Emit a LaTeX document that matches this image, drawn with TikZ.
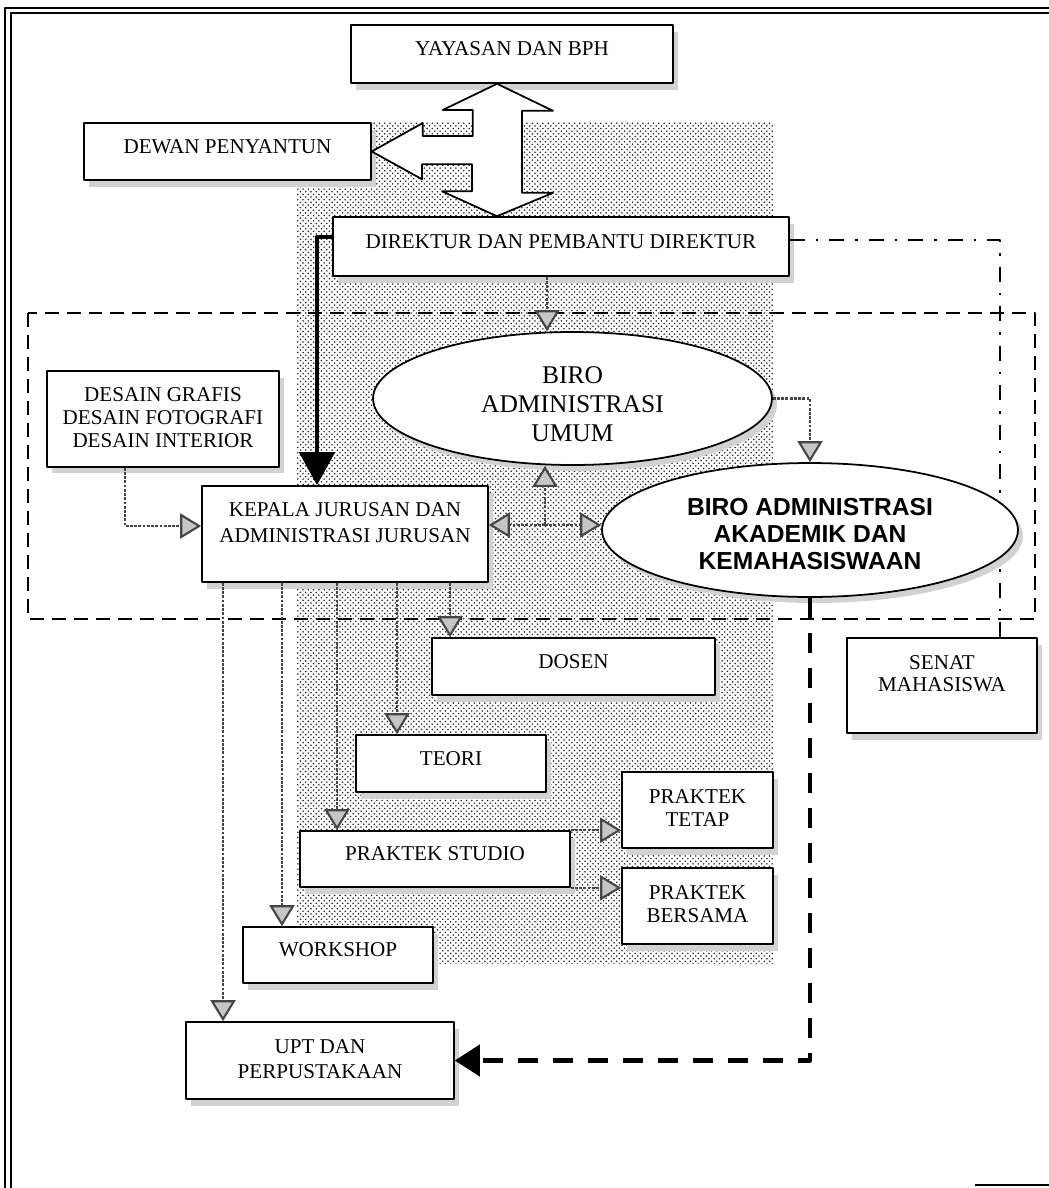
\documentclass[tikz,border=0pt]{standalone}
\usepackage{fontspec}
\setmainfont{Liberation Serif}
\newfontfamily\hurufjudul{Liberation Sans}
\usetikzlibrary{arrows.meta,shapes.geometric,patterns,shadows}

\begin{document}
\begin{tikzpicture}[x=0.02cm, y=-0.02cm, line join=round, font=\fontsize{12}{13}\selectfont,
	kotak/.style={draw, fill=white, line width=0.9pt, align=center, inner sep=2pt, text depth=0.2cm,
		drop shadow={shadow xshift=0.1cm, shadow yshift=-0.13cm, fill=gray!35, opacity=1}},
	elips/.style={ellipse, draw, fill=white, line width=1pt, align=center, inner sep=0pt,
		drop shadow={shadow xshift=0.1cm, shadow yshift=-0.12cm, fill=gray!35, opacity=1}},
	rantai/.style={draw=gray!55!black, line width=1.2pt, dash pattern=on 1.6pt off 0.8pt,
		-{Triangle[length=0.42cm, width=0.5cm, fill=gray!45]}}]
	% Batas gambar
	\useasboundingbox (0,0) rectangle (1049,1188);
	% Bingkai halaman
	\draw[line width=1.2pt] (5,1188) -- (5,8) -- (1049,8);
	\draw[line width=0.6pt] (11,1188) -- (11,13) -- (1049,13);
	\draw[line width=1pt] (975,1185) -- (1049,1185);
	% Bidang berbintik dan garis putus-putus
	\fill[pattern=crosshatch dots, pattern color=black!85] (297,122) rectangle (773,963);
	\draw[line width=1.1pt, dash pattern=on 0.28cm off 0.16cm] (28,313) rectangle (1035,619);
	% Kotak atas
	\node[kotak, minimum width=6.44cm, minimum height=1.16cm] (yay) at (512,54) {YAYASAN DAN BPH};
	\node[kotak, minimum width=5.74cm, minimum height=1.14cm] (dewan) at (227.5,151.5) {DEWAN PENYANTUN};
	\node[kotak, minimum width=9.12cm, minimum height=1.18cm] (dir) at (561,246.5) {DIREKTUR DAN PEMBANTU DIREKTUR};
	\node[kotak, minimum width=3.8cm, minimum height=1.9cm, text depth=0.48cm] (senat) at (942,685.5) {SENAT\\MAHASISWA};
	\draw[line width=0.9pt, dash pattern=on 0.3cm off 0.22cm on 0.05cm off 0.22cm] ([yshift=0.13cm]dir.east) -| ([xshift=1.16cm]senat.north);
	% Biro
	\node[elips, minimum width=7.98cm, minimum height=2.66cm, text height=1.74cm, font=\fontsize{14.5}{16.5}\selectfont] (umum) at (572.5,398.5) {BIRO\\ADMINISTRASI\\UMUM};
	\node[elips, minimum width=8.32cm, minimum height=2.68cm, text height=1.6cm, font=\hurufjudul\bfseries\fontsize{14}{15.6}\selectfont] (akad) at (810,530) {BIRO ADMINISTRASI\\AKADEMIK DAN\\KEMAHASISWAAN};
	% Kotak jurusan
	\node[kotak, minimum width=4.64cm, minimum height=1.92cm, text depth=0.05cm] (desain) at (163,419) {DESAIN GRAFIS\\DESAIN FOTOGRAFI\\DESAIN INTERIOR};
	\node[kotak, minimum width=5.72cm, minimum height=1.92cm, text depth=0.45cm] (kepala) at (345,534) {KEPALA JURUSAN DAN\\[2pt]ADMINISTRASI JURUSAN};
	\node[kotak, minimum width=5.66cm, minimum height=1.14cm] (dosen) at (573.5,666.5) {DOSEN};
	\node[kotak, minimum width=3.8cm, minimum height=1.14cm] (teori) at (451,763.5) {TEORI};
	\node[kotak, minimum width=5.4cm, minimum height=1.12cm] (studio) at (435,859) {PRAKTEK STUDIO};
	\node[kotak, minimum width=3.02cm, minimum height=1.52cm, text depth=0.08cm] (tetap) at (697.5,810) {PRAKTEK\\TETAP};
	\node[kotak, minimum width=3.02cm, minimum height=1.52cm, text depth=0.08cm] (bersama) at (697.5,906) {PRAKTEK\\BERSAMA};
	\node[kotak, minimum width=3.8cm, minimum height=1.12cm] (workshop) at (338,955) {WORKSHOP};
	\node[kotak, minimum width=5.36cm, minimum height=1.54cm, text depth=0.05cm] (upt) at (320,1060.5) {UPT DAN\\[1pt]PERPUSTAKAAN};
	% Panah besar dua arah
	\coordinate (poros) at (497,0);
	\draw[line width=1pt, fill=white] (yay.south -| poros) -- ++(56,27) -- ++(-31,0) -- ++(0,82) -- ++(31,0)
		-- (dir.north -| poros) -- ++(-55,-25) -- ++(30,0) -- ++(0,-27) -- ++(-50,0) -- ++(0,15)
		-- (dewan.east) -- ++(51,-28.5) -- ++(0,13) -- ++(50,0) -- ++(0,-26) -- ++(-30,0) -- cycle;
	% Panah hitam
	\draw[line width=2.6pt, -{Triangle[length=0.66cm, width=0.7cm]}] ([yshift=0.19cm]dir.west) -| ([xshift=-0.56cm]kepala.north);
	\draw[line width=2.4pt, dash pattern=on 0.4cm off 0.3cm, -{Triangle[length=0.5cm, width=0.62cm]}] (akad.south) |- (upt.east);
	% Panah berpola
	\coordinate (d1) at ([xshift=-0.28cm]dir.south);
	\draw[rantai] (d1) -- (d1 |- umum.north);
	\draw[rantai] (umum.east) -| (akad.north);
	\coordinate (d2) at ([xshift=-0.76cm]desain.south);
	\draw[rantai] (d2) |- ([yshift=0.16cm]kepala.west);
	\coordinate (simpul) at (545,525);
	\draw[rantai] (simpul) -- (simpul -| kepala.east);
	\draw[rantai] (simpul) -- (simpul -| akad.west);
	\draw[rantai] (simpul) -- (simpul |- umum.south);
	\foreach \dx/\t in {-122/upt, -63/workshop, -8/studio, 52/teori, 105/dosen}{
		\coordinate (k) at ([xshift=\dx*0.02cm]kepala.south);
		\draw[rantai] (k) -- (k |- \t.north);
	}
	\draw[rantai] (studio.north east) -- (studio.north east -| tetap.west);
	\draw[rantai] (studio.south east) -- (studio.south east -| bersama.west);
\end{tikzpicture}
\end{document}
